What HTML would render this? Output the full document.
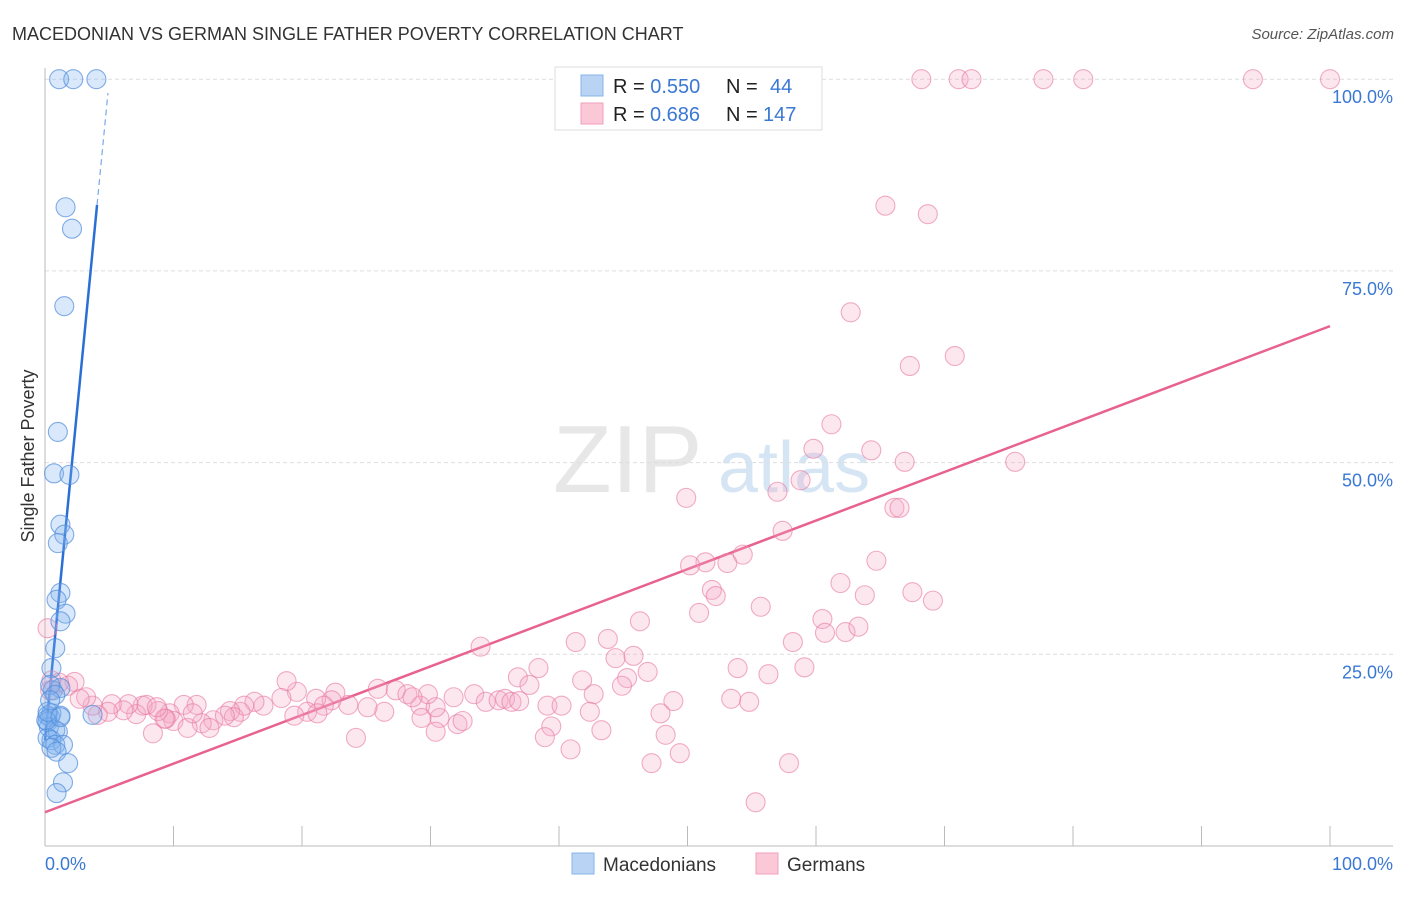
<!DOCTYPE html>
<html><head><meta charset="utf-8"><style>
body{margin:0;background:#fff;font-family:"Liberation Sans",sans-serif;}
svg text{font-family:"Liberation Sans",sans-serif;}
</style></head><body>
<svg id="chart" width="1406" height="892">
<text x="12" y="40" font-size="18" fill="#333">MACEDONIAN VS GERMAN SINGLE FATHER POVERTY CORRELATION CHART</text>
<text x="1394" y="39" font-size="15" fill="#555" text-anchor="end" font-style="italic">Source: ZipAtlas.com</text>
<text transform="translate(34,456) rotate(-90)" font-size="18" fill="#333" text-anchor="middle">Single Father Poverty</text>
<g><text x="553" y="492" font-size="96" fill="#e2e2e2" font-family="Liberation Serif" opacity="0.8">ZIP</text><text x="718" y="492" font-size="72" fill="#cddff2" opacity="0.8">atlas</text></g>
<g id="grid"></g><g id="axes"></g><g id="lines"></g><g id="pts"></g>
<g>
<rect x="555" y="67" width="267" height="63" fill="#fff" stroke="#ddd"/>
<rect x="581" y="75" width="22" height="21" fill="#b8d3f3" stroke="#8ab4e8"/>
<rect x="581" y="103" width="22" height="21" fill="#fbc8d8" stroke="#f0a0bb"/>
<text x="613" y="93" font-size="20" fill="#222">R = <tspan fill="#3a78d4">0.550</tspan><tspan x="726">N = </tspan><tspan x="770" fill="#3a78d4">44</tspan></text>
<text x="613" y="121" font-size="20" fill="#222">R = <tspan x="650" fill="#3a78d4">0.686</tspan><tspan x="726">N = </tspan><tspan x="763" fill="#3a78d4">147</tspan></text>
</g>
<g>
<rect x="572" y="853" width="22" height="21" fill="#b8d3f3" stroke="#8ab4e8"/>
<text x="603" y="871" font-size="19" fill="#333">Macedonians</text>
<rect x="756" y="853" width="22" height="21" fill="#fbc8d8" stroke="#f0a0bb"/>
<text x="787" y="871" font-size="19" fill="#333">Germans</text>
</g>
</svg>
<script>
const yTicks=[25,50,75,100];
const yTickLabels=["25.0%","50.0%","75.0%","100.0%"];
const macX=[1.1,2.2,4.0,1.6,2.1,1.5,1.0,0.7,1.9,1.2,1.5,1.0,1.2,0.9,1.6,1.2,0.8,0.5,0.6,1.2,0.4,0.8,0.2,0.4,0.5,1.2,0.2,0.3,0.8,1.0,0.2,0.5,0.8,1.4,0.5,0.9,1.8,1.4,0.9,3.7,0.1,0.2,0.4,1.2];
const macY=[100,100,100,83.3,80.5,70.4,54.0,48.6,48.4,41.9,40.6,39.5,33.0,32.1,30.3,29.3,25.8,23.2,20.3,20.6,21.0,19.7,17.0,16.8,17.3,17.0,16.2,15.5,15.1,14.9,14.1,13.8,13.2,13.2,12.8,12.3,10.8,8.3,6.9,17.1,16.4,17.5,19.0,16.8];
const gerX=[68.2,71.1,72.1,77.7,80.8,94.0,100,65.4,68.7,62.7,67.3,70.8,61.2,59.8,64.3,66.9,75.5,49.9,57.0,58.8,66.1,66.5,57.4,54.3,51.4,50.2,53.1,64.7,61.9,51.9,52.2,63.8,67.5,69.1,55.7,50.9,60.5,60.7,62.3,63.3,46.3,41.3,43.8,33.9,58.2,44.4,45.8,46.9,53.9,59.1,56.3,38.4,36.8,41.8,37.7,45.3,44.9,42.7,33.4,31.8,34.3,35.3,35.8,36.3,36.9,39.1,40.2,48.9,53.4,54.8,42.4,47.9,30.7,29.2,29.3,30.4,32.1,32.5,39.4,43.3,48.3,38.9,40.9,47.2,49.4,57.9,55.3,30.4,24.2,29.8,27.3,28.2,28.6,25.9,26.4,25.1,23.6,22.6,22.3,21.1,21.7,19.6,18.8,18.4,20.4,21.2,19.4,17.0,16.3,15.2,15.5,14.4,14.7,13.1,12.2,12.8,11.8,10.8,9.7,10.0,9.4,8.8,7.6,7.1,6.5,6.1,5.2,4.9,4.1,3.7,3.2,2.7,2.3,1.8,1.1,0.5,0.2,0.4,8.4,11.1,9.3,7.9,8.7,11.5,14.0];
const gerY=[100,100,100,100,100,100,100,83.5,82.4,69.6,62.6,63.9,55.0,51.8,51.6,50.1,50.1,45.4,46.2,47.7,44.1,44.1,41.1,38.0,37.0,36.6,36.9,37.2,34.3,33.4,32.6,32.7,33.1,32.0,31.2,30.4,29.6,27.8,27.9,28.6,29.3,26.6,27.0,26.0,26.6,24.5,24.8,22.7,23.2,23.3,22.4,23.2,22.0,21.6,21.0,21.9,20.9,19.8,19.8,19.4,18.8,19.0,19.2,18.8,18.9,18.3,18.3,18.9,19.2,18.8,17.5,17.3,16.7,18.3,16.7,18.1,15.9,16.3,15.6,15.1,14.5,14.2,12.6,10.8,12.1,10.8,5.7,14.9,14.1,19.8,20.3,19.8,19.4,20.5,17.5,18.1,18.4,20.0,19.0,19.2,18.3,20.1,21.5,19.3,17.5,17.3,17.0,18.3,18.8,17.5,18.3,17.6,16.8,16.4,16.0,15.4,18.4,18.4,17.3,16.3,16.6,17.6,18.3,17.2,18.5,17.7,18.5,17.5,17.1,18.3,19.4,19.2,21.4,20.9,21.3,21.6,28.4,20.3,14.7,15.4,16.6,18.4,18.1,17.3,17.0];
const macLine=[0,13.8,4.05,83.6,4.9,98.2];
const gerLine=[0,4.4,100,67.8];
const NS='http://www.w3.org/2000/svg';
const X=v=>45+v*12.85, Y=v=>846-v*7.668;
function mk(parent,tag,attrs){const e=document.createElementNS(NS,tag);for(const k in attrs)e.setAttribute(k,attrs[k]);document.getElementById(parent).appendChild(e);return e;}
yTicks.forEach((t,i)=>{
 const g=mk('grid','line',{x1:45,x2:1393,y1:Y(t),y2:Y(t),stroke:'#ddd','stroke-dasharray':'4,3'});
 
 
 const l=mk('grid','text',{x:1393,y:Y(t)+24,'font-size':18,fill:'#3a78d4','text-anchor':'end'});
 l.textContent=yTickLabels[i];
 
 
});
const ax=mk('axes','line',{x1:45,x2:45,y1:68,y2:846,stroke:'#bbb'});


const bx=mk('axes','line',{x1:45,x2:1393,y1:846,y2:846,stroke:'#bbb'});


for(let i=1;i<=10;i++){const t=mk('axes','line',{x1:X(i*10),x2:X(i*10),y1:826,y2:846,stroke:'#bbb'});
 
 }
const xl0=mk('axes','text',{x:45,y:870,'font-size':18,fill:'#3a78d4'});xl0.textContent='0.0%';


const xl1=mk('axes','text',{x:1393,y:870,'font-size':18,fill:'#3a78d4','text-anchor':'end'});xl1.textContent='100.0%';


gerX.forEach((x,i)=>{const c=mk('pts','circle',{cx:X(x),cy:Y(gerY[i]),r:9.5,fill:'rgba(246,170,198,0.28)',stroke:'rgba(232,120,160,0.6)','stroke-width':1.1});
 
 });
macX.forEach((x,i)=>{const c=mk('pts','circle',{cx:X(x),cy:Y(macY[i]),r:9.5,fill:'rgba(130,178,238,0.3)',stroke:'rgba(80,140,220,0.7)','stroke-width':1.1});
 
 });
const m1=mk('lines','line',{x1:X(macLine[0]),y1:Y(macLine[1]),x2:X(macLine[2]),y2:Y(macLine[3]),stroke:'#2a6fd6','stroke-width':2.5});


const m2=mk('lines','line',{x1:X(macLine[2]),y1:Y(macLine[3]),x2:X(macLine[4]),y2:Y(macLine[5]),stroke:'#7aa8e6','stroke-width':1.2,'stroke-dasharray':'6,4'});


const g1=mk('lines','line',{x1:X(gerLine[0]),y1:Y(gerLine[1]),x2:X(gerLine[2]),y2:Y(gerLine[3]),stroke:'#e8628e','stroke-width':2.5});


</script>
</body></html>
